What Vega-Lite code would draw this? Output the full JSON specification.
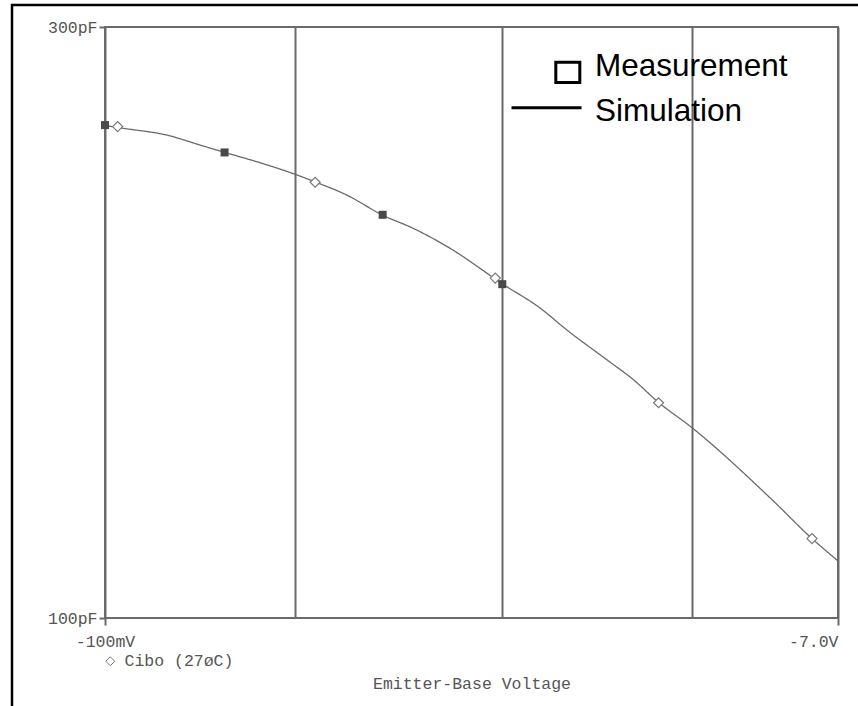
{
  "$schema": "https://vega.github.io/schema/vega-lite/v6.json",
  "width": 733,
  "height": 591,
  "autosize": {"type": "none"},
  "padding": {"left": 105, "top": 27, "right": 20, "bottom": 88},
  "background": "white",
  "config": {
    "view": {"stroke": "#6a6a6a", "strokeWidth": 2},
    "font": "Liberation Mono",
    "legend": {"strokeWidth": 2.5}
  },
  "datasets": {
    "simulation": [
      {"model": "Simulation", "V": -0.1, "C": 249.8},
      {"model": "Simulation", "V": -0.1112, "C": 248.5},
      {"model": "Simulation", "V": -0.143, "C": 245.4},
      {"model": "Simulation", "V": -0.1735, "C": 240.9},
      {"model": "Simulation", "V": -0.1994, "C": 237.7},
      {"model": "Simulation", "V": -0.2457, "C": 233.1},
      {"model": "Simulation", "V": -0.2992, "C": 228.3},
      {"model": "Simulation", "V": -0.3385, "C": 224.9},
      {"model": "Simulation", "V": -0.4062, "C": 219.5},
      {"model": "Simulation", "V": -0.4993, "C": 211.5},
      {"model": "Simulation", "V": -0.5975, "C": 206.3},
      {"model": "Simulation", "V": -0.7392, "C": 198.8},
      {"model": "Simulation", "V": -1.0035, "C": 186.0},
      {"model": "Simulation", "V": -1.2458, "C": 177.9},
      {"model": "Simulation", "V": -1.4544, "C": 170.8},
      {"model": "Simulation", "V": -1.834, "C": 161.6},
      {"model": "Simulation", "V": -2.14, "C": 155.7},
      {"model": "Simulation", "V": -2.474, "C": 149.3},
      {"model": "Simulation", "V": -2.973, "C": 142.8},
      {"model": "Simulation", "V": -4.775, "C": 124.6},
      {"model": "Simulation", "V": -6.022, "C": 115.9},
      {"model": "Simulation", "V": -7.0, "C": 111.2}
    ],
    "markers": [
      {"trace": "Cibo (27øC)", "V": -0.1076, "C": 249.3},
      {"trace": "Cibo (27øC)", "V": -0.338, "C": 224.8},
      {"trace": "Cibo (27øC)", "V": -0.96, "C": 188.1},
      {"trace": "Cibo (27øC)", "V": -2.474, "C": 149.2},
      {"trace": "Cibo (27øC)", "V": -6.02, "C": 115.9}
    ],
    "measurement": [
      {"series": "Measurement", "V": -0.1, "C": 250.0},
      {"series": "Measurement", "V": -0.2, "C": 237.6},
      {"series": "Measurement", "V": -0.5, "C": 211.6},
      {"series": "Measurement", "V": -1.0, "C": 186.0}
    ]
  },
  "encoding": {
    "x": {
      "field": "V",
      "type": "quantitative",
      "scale": {"type": "log", "domain": [-0.1, -7], "nice": false},
      "axis": {
        "values": [-0.1, -0.3, -1, -3, -7],
        "labelExpr": "abs(datum.value) < 0.2 ? '-100mV' : (abs(datum.value) > 5 ? '-7.0V' : '')",
        "grid": true,
        "gridColor": "#6a6a6a",
        "gridWidth": 2,
        "gridOpacity": 1,
        "domain": false,
        "tickSize": 7,
        "tickWidth": 2,
        "tickColor": {"condition": {"test": "abs(datum.value) < 0.2 || abs(datum.value) > 5", "value": "#6a6a6a"}, "value": "transparent"},
        "labelFont": "Liberation Mono",
        "labelFontSize": 16.5,
        "labelColor": "#555555",
        "labelPadding": 8,
        "labelFlush": false,
        "labelOverlap": false,
        "labelAlign": {"condition": {"test": "abs(datum.value) > 5", "value": "right"}, "value": "center"},
        "title": "Emitter-Base Voltage",
        "titleFont": "Liberation Mono",
        "titleFontSize": 16.5,
        "titleFontWeight": "normal",
        "titleColor": "#555555",
        "titleY": 65,
        "titleBaseline": "middle"
      }
    },
    "y": {
      "field": "C",
      "type": "quantitative",
      "scale": {"type": "log", "domain": [100, 300], "nice": false},
      "axis": {
        "values": [100, 300],
        "labelExpr": "datum.value + 'pF'",
        "grid": false,
        "domain": false,
        "tickSize": 6,
        "tickWidth": 2,
        "tickColor": "#6a6a6a",
        "labelPadding": 2,
        "labelFont": "Liberation Mono",
        "labelFontSize": 16.5,
        "labelColor": "#555555",
        "labelFlush": false,
        "title": null
      }
    }
  },
  "layer": [
    {
      "data": {"name": "simulation"},
      "mark": {"type": "line", "color": "#6a6a6a", "strokeWidth": 1.3, "interpolate": "monotone"},
      "encoding": {
        "strokeDash": {
          "field": "model",
          "type": "nominal",
          "scale": {"range": [[1, 0]]},
          "legend": {
            "orient": "none",
            "legendX": -93,
            "legendY": -22,
            "title": null,
            "padding": 1000,
            "strokeColor": "black",
            "labelExpr": "''",
            "symbolOpacity": 0
          }
        }
      }
    },
    {
      "data": {"name": "markers"},
      "mark": {"type": "point", "shape": "diamond", "size": 100, "filled": false, "fill": "white", "strokeWidth": 1.2, "opacity": 1},
      "encoding": {
        "stroke": {
          "field": "trace",
          "type": "nominal",
          "scale": {"range": ["#777777"]},
          "legend": {
            "orient": "none",
            "legendX": -3,
            "legendY": 626,
            "title": null,
            "padding": 0,
            "symbolSize": 81,
            "symbolType": "diamond",
            "symbolStrokeWidth": 1,
            "labelFont": "Liberation Mono",
            "labelFontSize": 16.5,
            "labelColor": "#555555",
            "labelOffset": 6
          }
        }
      }
    },
    {
      "data": {"name": "measurement"},
      "mark": {"type": "point", "shape": "square", "filled": true, "size": 64, "opacity": 1, "color": "#4a4a4a"}
    },
    {
      "data": {"name": "measurement"},
      "mark": {"type": "point", "filled": false, "color": "black", "strokeWidth": 3, "opacity": 0},
      "encoding": {
        "shape": {
          "field": "series",
          "type": "nominal",
          "scale": {
            "domain": ["Measurement", "Simulation"],
            "range": ["M 0.443 -0.2 H 1.586 V 0.76 H 0.443 Z", "M -1.667 -0.18 H 1.667"]
          },
          "legend": {
            "orient": "none",
            "legendX": 419,
            "legendY": 17,
            "title": null,
            "padding": 0,
            "symbolSize": 1764,
            "symbolOpacity": 1,
            "symbolStrokeWidth": 3,
            "symbolStrokeColor": "black",
            "symbolFillColor": "transparent",
            "rowPadding": 0,
            "labelFont": "Liberation Sans",
            "labelFontSize": 31.5,
            "labelColor": "black",
            "labelOffset": 26,
            "labelLimit": 500
          }
        }
      }
    }
  ]
}
